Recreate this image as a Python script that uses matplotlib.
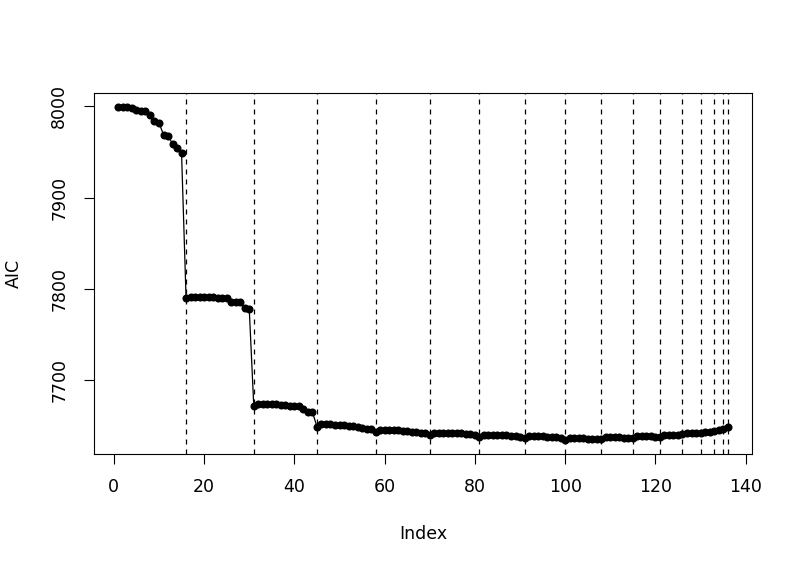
import matplotlib
matplotlib.use("Agg")
import matplotlib.pyplot as plt
import numpy as np

# AIC along the stepwise search, one value per fitted model
aic = [
    # 1-16
    7999.7, 7999.5, 7999.0, 7998.0, 7996.4, 7995.3, 7994.6, 7990.6,
    7984.4, 7981.8, 7969.0, 7968.0, 7958.8, 7954.0, 7948.6, 7789.7,
    # 17-31
    7791.5, 7791.2, 7791.0, 7790.8, 7790.6, 7790.5, 7790.3, 7790.0,
    7789.5, 7786.0, 7785.5, 7785.2, 7778.5, 7778.0, 7671.8,
    # 32-45
    7674.0, 7674.0, 7673.8, 7673.5, 7673.3, 7673.0, 7672.5, 7672.0,
    7671.5, 7671.0, 7668.0, 7665.0, 7664.8, 7649.0,
    # 46-58
    7651.5, 7651.5, 7651.3, 7651.0, 7650.8, 7650.5, 7650.0, 7649.5,
    7649.0, 7647.5, 7646.5, 7646.0, 7643.0,
    # 59-70
    7645.5, 7645.5, 7645.3, 7645.0, 7644.8, 7644.5, 7644.0, 7643.5,
    7642.8, 7642.0, 7641.5, 7640.0,
    # 71-81
    7642.5, 7642.5, 7642.3, 7642.2, 7642.0, 7641.8, 7641.6, 7641.4,
    7641.0, 7640.2, 7637.5,
    # 82-91
    7640.0, 7640.0, 7639.8, 7639.7, 7639.5, 7639.3, 7639.0, 7638.5,
    7638.0, 7636.0,
    # 92-100
    7638.5, 7638.5, 7638.3, 7638.2, 7638.0, 7637.7, 7637.3, 7636.8,
    7634.3,
    # 101-108
    7636.5, 7636.3, 7636.2, 7636.0, 7635.8, 7635.6, 7635.4, 7635.2,
    # 109-115
    7637.5, 7637.5, 7637.3, 7637.2, 7637.0, 7636.7, 7636.0,
    # 116-121
    7638.5, 7638.5, 7638.3, 7638.2, 7638.0, 7637.5,
    # 122-126
    7640.0, 7640.0, 7640.0, 7640.0, 7640.5,
    # 127-130
    7641.5, 7641.5, 7641.5, 7642.5,
    # 131-133
    7643.5, 7643.5, 7644.5,
    # 134-136
    7645.0, 7646.0, 7648.0,
]
# last model of each step
breaks = [16, 31, 45, 58, 70, 81, 91, 100, 108, 115, 121, 126, 130, 133, 135, 136]

idx = np.arange(1, len(aic) + 1)

plt.rcParams["font.family"] = "DejaVu Sans"
fig = plt.figure(figsize=(8, 5.71), dpi=100)
ax = fig.add_axes([0.1175, 0.205, 0.8225, 0.632])

for b in breaks:
    ax.axvline(b, color="black", linestyle=(0, (4, 4)), linewidth=0.9)
ax.plot(idx, aic, color="black", linewidth=0.9, marker="o", markersize=5.8,
        markeredgewidth=0)

ax.set_xlim(-4.4, 141.4)
ax.set_ylim(7619.0, 8014.5)
ax.set_xticks([0, 20, 40, 60, 80, 100, 120, 140])
ax.set_yticks([7700, 7800, 7900, 8000])
ax.tick_params(axis="both", direction="out", length=7.5, width=0.8, labelsize=12.5)
ax.tick_params(axis="x", pad=10)
ax.tick_params(axis="y", pad=11)
for lab in ax.get_yticklabels():
    lab.set_rotation(90)
    lab.set_va("center")

for s in ax.spines.values():
    s.set_linewidth(0.8)

ax.set_xlabel("Index", fontsize=12.5)
ax.set_ylabel("AIC", fontsize=12.5)
ax.xaxis.set_label_coords(0.5, -0.197)
ax.yaxis.set_label_coords(-0.108, 0.5)

fig.savefig("out.png", dpi=100)
